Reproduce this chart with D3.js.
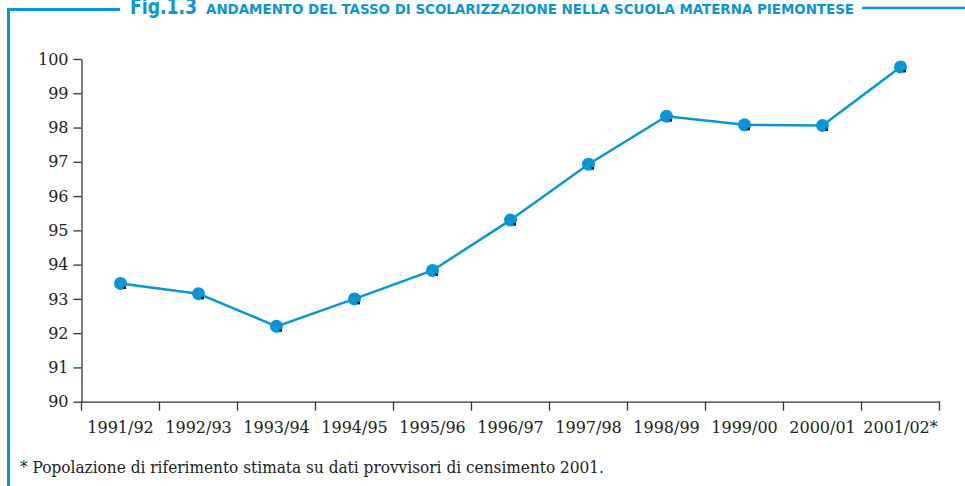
<!DOCTYPE html>
<html lang="it">
<head>
    <meta charset="UTF-8">
    <title>Fig.1.3 Tasso di scolarizzazione</title>
    <script src="https://d3js.org/d3.v7.min.js"></script>
    <style>
        body { margin: 0; background: #fff; }
        .axis path, .axis line { stroke: #333; stroke-width: 1.3; }
        .axis text { font-family: "DejaVu Serif", serif; font-size: 16px; fill: #222; }
        .title { font-family: "DejaVu Sans Condensed", "DejaVu Sans", sans-serif; font-stretch: condensed; font-weight: bold; fill: #0995d6; }
        .note { font-family: "DejaVu Serif", serif; font-size: 16.5px; fill: #222; }
    </style>
</head>
<body>
<div id="chart"></div>
<script>
    var years = ["1991/92", "1992/93", "1993/94", "1994/95", "1995/96", "1996/97",
                 "1997/98", "1998/99", "1999/00", "2000/01", "2001/02*"];
    var tasso = [93.45, 93.15, 92.2, 93.0, 93.83, 95.3, 96.93, 98.33, 98.08, 98.06, 99.77];
    var yTicks = [90, 91, 92, 93, 94, 95, 96, 97, 98, 99, 100];

    var w = 965, h = 486;
    var blue = "#0995d6";

    var svg = d3.select("#chart").append("svg")
        .attr("width", w)
        .attr("height", h);

    // cornice blu
    svg.append("path")
        .attr("d", "M8.5," + h + "V9.5H120")
        .attr("fill", "none")
        .attr("stroke", blue)
        .attr("stroke-width", 3);
    svg.append("line")
        .attr("x1", 862).attr("x2", w)
        .attr("y1", 8).attr("y2", 8)
        .attr("stroke", blue)
        .attr("stroke-width", 2.5);

    svg.append("text")
        .attr("class", "title")
        .attr("x", 130).attr("y", 13.5)
        .attr("font-size", 21)
        .attr("textLength", 67)
        .attr("lengthAdjust", "spacingAndGlyphs")
        .text("Fig.1.3");
    svg.append("text")
        .attr("class", "title")
        .attr("x", 206).attr("y", 13.5)
        .attr("font-size", 13.5)
        .attr("textLength", 648)
        .attr("lengthAdjust", "spacingAndGlyphs")
        .text("ANDAMENTO DEL TASSO DI SCOLARIZZAZIONE NELLA SCUOLA MATERNA PIEMONTESE");

    var x = d3.scaleBand().domain(years).range([81.5, 939.5]).padding(0);
    var y = d3.scaleLinear().domain([90, 100]).range([401.7, 59]);

    var yAxis = d3.axisLeft(y).tickValues(yTicks).tickSize(8).tickPadding(5).tickSizeOuter(0);
    svg.append("g")
        .attr("class", "axis")
        .attr("transform", "translate(81.5,0)")
        .call(yAxis);

    var xAxis = d3.axisBottom(x).tickSize(0).tickSizeOuter(0).tickPadding(0);
    var gx = svg.append("g")
        .attr("class", "axis")
        .attr("transform", "translate(0,401.7)")
        .call(xAxis);
    gx.selectAll(".tick text").attr("dy", null).attr("y", 31);

    // tacche ai bordi delle categorie
    var edges = years.map(function(d) { return x(d); }).concat([x.range()[1]]);
    gx.selectAll(".edge")
        .data(edges)
        .enter().append("line")
        .attr("class", "edge")
        .attr("x1", function(d) { return d; })
        .attr("x2", function(d) { return d; })
        .attr("y1", 0).attr("y2", 9);

    var pts = years.map(function(d, i) { return { year: d, value: tasso[i] }; });
    var cx = function(d) { return x(d.year) + x.bandwidth() / 2; };

    var line = d3.line()
        .x(cx)
        .y(function(d) { return y(d.value); });

    svg.append("path")
        .datum(pts)
        .attr("fill", "none")
        .attr("stroke", blue)
        .attr("stroke-width", 2.5)
        .attr("d", line);

    svg.selectAll(".dot")
        .data(pts)
        .enter().append("circle")
        .attr("class", "dot")
        .attr("cx", cx)
        .attr("cy", function(d) { return y(d.value); })
        .attr("r", 6.5)
        .attr("fill", blue);

    svg.selectAll(".speck")
        .data(pts)
        .enter().append("rect")
        .attr("class", "speck")
        .attr("x", function(d) { return cx(d) + 3; })
        .attr("y", function(d) { return y(d.value) + 3; })
        .attr("width", 2.5)
        .attr("height", 2.5)
        .attr("fill", "#111");

    svg.append("text")
        .attr("class", "note")
        .attr("x", 20).attr("y", 473)
        .attr("textLength", 584)
        .attr("lengthAdjust", "spacingAndGlyphs")
        .text("* Popolazione di riferimento stimata su dati provvisori di censimento 2001.");
</script>
</body>
</html>
